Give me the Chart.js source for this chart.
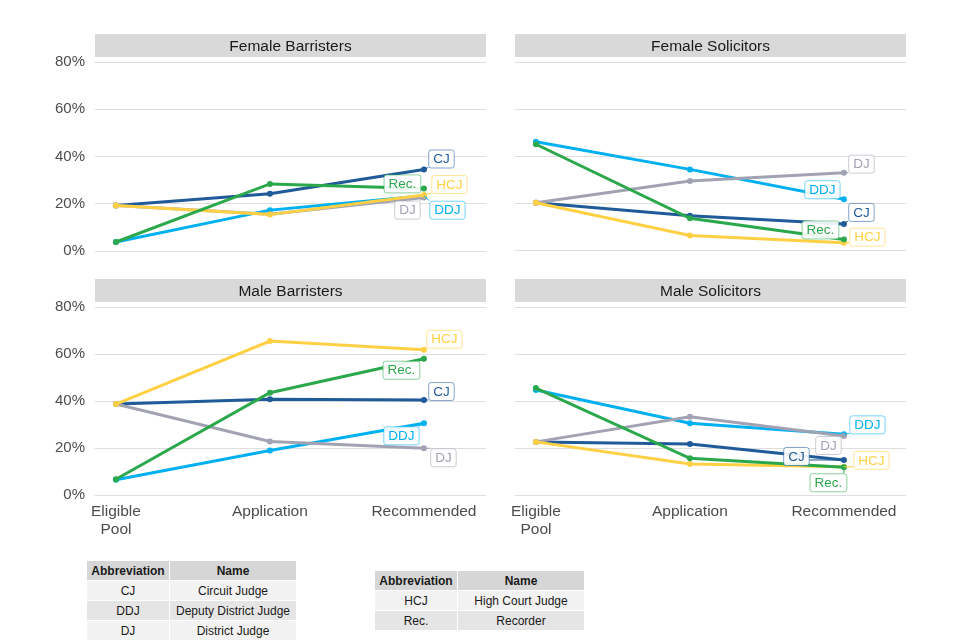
<!DOCTYPE html>
<html>
<head>
<meta charset="utf-8">
<script src="https://cdn.jsdelivr.net/npm/chart.js@4"></script>
<style>
  body { margin: 0; background: #fff; font-family: "Liberation Sans", Arial, sans-serif; }
  #fig { position: relative; width: 960px; height: 640px; overflow: hidden; }
  .panel { position: absolute; }
  table.key { position: absolute; border-collapse: separate; border-spacing: 1px; font-size: 12px; color: #1a1a1a; }
  table.key th { background: #d6d6d6; font-weight: bold; height: 19px; padding: 0; }
  table.key td { text-align: center; height: 19px; padding: 0; }
  table.key tr:nth-child(even) td { background: #f2f2f2; }
  table.key tr:nth-child(odd) td { background: #e5e5e5; }
</style>
</head>
<body>
<div id="fig">
  <div class="panel" style="left:40px;top:30px;width:450px;height:240px"><canvas id="p0"></canvas></div>
  <div class="panel" style="left:500px;top:30px;width:410px;height:230px"><canvas id="p1"></canvas></div>
  <div class="panel" style="left:40px;top:275px;width:450px;height:270px"><canvas id="p2"></canvas></div>
  <div class="panel" style="left:500px;top:275px;width:410px;height:270px"><canvas id="p3"></canvas></div>

  <table class="key" style="left:86px;top:560px;">
    <tr><th style="width:82px">Abbreviation</th><th style="width:126px">Name</th></tr>
    <tr><td>CJ</td><td>Circuit Judge</td></tr>
    <tr><td>DDJ</td><td>Deputy District Judge</td></tr>
    <tr><td>DJ</td><td>District Judge</td></tr>
  </table>
  <table class="key" style="left:374px;top:570px;">
    <tr><th style="width:82px">Abbreviation</th><th style="width:126px">Name</th></tr>
    <tr><td>HCJ</td><td>High Court Judge</td></tr>
    <tr><td>Rec.</td><td>Recorder</td></tr>
  </table>
</div>

<script>
// stages along the x axis
const stages = ["Eligible Pool", "Application", "Recommended"];
const stageTicks = [["Eligible", "Pool"], "Application", "Recommended"];
const judgeTypes = ["CJ", "DDJ", "DJ", "HCJ", "Rec."];
const judgeColors = ["#1f5a99", "#00b0f0", "#a1a3b3", "#ffd044", "#2ca84c"];
const yTicks = [0, 20, 40, 60, 80];
const panelTitles = ["Female Barristers", "Female Solicitors", "Male Barristers", "Male Solicitors"];

// % share at each stage, rows follow judgeTypes
const femaleBarristers = [
  [19.3, 24.2, 34.5],
  [3.8, 17.3, 23.4],
  [19.3, 15.6, 22.6],
  [19.3, 15.4, 23.7],
  [3.8, 28.4, 26.5]
];
const femaleSolicitors = [
  [20.1, 14.6, 11.1],
  [46.1, 34.3, 21.6],
  [20.1, 29.4, 32.9],
  [20.1, 6.2, 3.1],
  [45.0, 13.5, 4.5]
];
const maleBarristers = [
  [38.7, 40.7, 40.4],
  [6.5, 18.9, 30.5],
  [38.7, 22.8, 19.9],
  [38.7, 65.5, 61.8],
  [6.7, 43.5, 58.0]
];
const maleSolicitors = [
  [22.6, 21.7, 14.9],
  [44.7, 30.5, 25.8],
  [22.6, 33.3, 25.1],
  [22.6, 13.2, 12.0],
  [45.5, 15.6, 11.8]
];
const panelData = [femaleBarristers, femaleSolicitors, maleBarristers, maleSolicitors];

// pixel offsets of each end label from its last point (label placement only)
const labelOffsets = [
  { "CJ": [17, -11], "DDJ": [23, 14], "DJ": [-17, 12], "HCJ": [25, -11], "Rec.": [-22, -5] },
  { "CJ": [17, -12], "DDJ": [-22, -10], "DJ": [17, -9], "HCJ": [23, -6], "Rec.": [-24, -10] },
  { "CJ": [17, -9], "DDJ": [-23, 12], "DJ": [19, 9], "HCJ": [20, -11], "Rec.": [-23, 11] },
  { "CJ": [-48, -4], "DDJ": [23, -10], "DJ": [-16, 9], "HCJ": [27, -7], "Rec.": [-16, 15] }
];

const FONT = '"Liberation Sans", Arial, sans-serif';

const stripPlugin = {
  id: "strip",
  beforeDraw(chart, args, opts) {
    const { ctx, chartArea } = chart;
    ctx.save();
    ctx.fillStyle = "#d9d9d9";
    ctx.fillRect(chartArea.left, chartArea.top - 28, chartArea.right - chartArea.left, 23);
    ctx.fillStyle = "#1a1a1a";
    ctx.font = "15.5px " + FONT;
    ctx.textAlign = "center";
    ctx.textBaseline = "middle";
    ctx.fillText(opts.text, (chartArea.left + chartArea.right) / 2, chartArea.top - 15);
    ctx.restore();
  }
};

function hexA(hex, a) {
  const n = parseInt(hex.slice(1), 16);
  return "rgba(" + (n >> 16) + "," + ((n >> 8) & 255) + "," + (n & 255) + "," + a + ")";
}

const endLabels = {
  id: "endLabels",
  afterDatasetsDraw(chart, args, opts) {
    const ctx = chart.ctx;
    ctx.save();
    ctx.font = "13.5px " + FONT;
    chart.data.datasets.forEach((ds, i) => {
      const meta = chart.getDatasetMeta(i);
      const pt = meta.data[meta.data.length - 1];
      const off = opts.offsets[ds.label];
      const w = ctx.measureText(ds.label).width + 9, h = 18;
      const bx = pt.x + off[0] - w / 2, by = pt.y + off[1] - h / 2;
      const nx = Math.max(bx, Math.min(pt.x, bx + w));
      const ny = Math.max(by, Math.min(pt.y, by + h));
      if (Math.hypot(nx - pt.x, ny - pt.y) > 4) {
        ctx.strokeStyle = ds.borderColor;
        ctx.lineWidth = 1;
        ctx.beginPath();
        ctx.moveTo(pt.x, pt.y);
        ctx.lineTo(nx, ny);
        ctx.stroke();
      }
      ctx.beginPath();
      ctx.roundRect(bx + 0.5, by + 0.5, w, h, 2.5);
      ctx.fillStyle = "rgba(255,255,255,0.9)";
      ctx.fill();
      ctx.strokeStyle = hexA(ds.borderColor, 0.55);
      ctx.lineWidth = 1;
      ctx.stroke();
      ctx.fillStyle = ds.borderColor;
      ctx.textAlign = "center";
      ctx.textBaseline = "middle";
      ctx.fillText(ds.label, bx + w / 2 + 0.5, by + h / 2 + 1);
    });
    ctx.restore();
  }
};

function makePanel(idx) {
  const leftCol = idx % 2 === 0;
  const bottomRow = idx >= 2;
  const datasets = judgeTypes.map((name, j) => ({
    label: name,
    data: panelData[idx][j].map((v, k) => ({ x: k, y: v })),
    borderColor: judgeColors[j],
    backgroundColor: judgeColors[j],
    pointBackgroundColor: judgeColors[j],
    pointBorderWidth: 0,
    pointRadius: 3,
    borderWidth: 3,
    tension: 0,
    order: judgeTypes.length - j
  }));

  // the 0% label overflow already reserves space under the left panels
  const padBottom = bottomRow || leftCol ? 0 : 10;

  new Chart(document.getElementById("p" + idx), {
    type: "line",
    data: { datasets },
    plugins: [stripPlugin, endLabels],
    options: {
      responsive: true,
      maintainAspectRatio: false,
      animation: false,
      layout: { padding: { top: 32, right: 4, bottom: padBottom, left: 0 } },
      plugins: {
        legend: { display: false },
        tooltip: { enabled: false },
        strip: { text: panelTitles[idx] },
        endLabels: { offsets: labelOffsets[idx] }
      },
      scales: {
        x: {
          type: "linear",
          display: bottomRow,
          min: -0.136,
          max: 2.403,
          afterBuildTicks: s => { s.ticks = stages.map((_, k) => ({ value: k })); },
          afterFit: s => { s.height = bottomRow ? 50 : 0; },
          grid: { display: false },
          border: { display: false },
          ticks: {
            callback: v => stageTicks[v],
            font: { family: FONT, size: 15.5 },
            color: "#4d4d4d",
            padding: -1,
            maxRotation: 0,
            autoSkip: false
          }
        },
        y: {
          min: 0,
          max: 80,
          afterBuildTicks: s => { s.ticks = yTicks.map(v => ({ value: v })); },
          afterFit: s => { s.width = leftCol ? 55 : 15; },
          grid: { color: "#dedede", lineWidth: 1, drawTicks: false },
          border: { display: false },
          ticks: {
            display: leftCol,
            callback: v => v + "%",
            font: { family: FONT, size: 15 },
            color: "#4d4d4d",
            padding: 10
          }
        }
      }
    }
  });
}

panelTitles.forEach((_, i) => makePanel(i));
</script>
</body>
</html>
